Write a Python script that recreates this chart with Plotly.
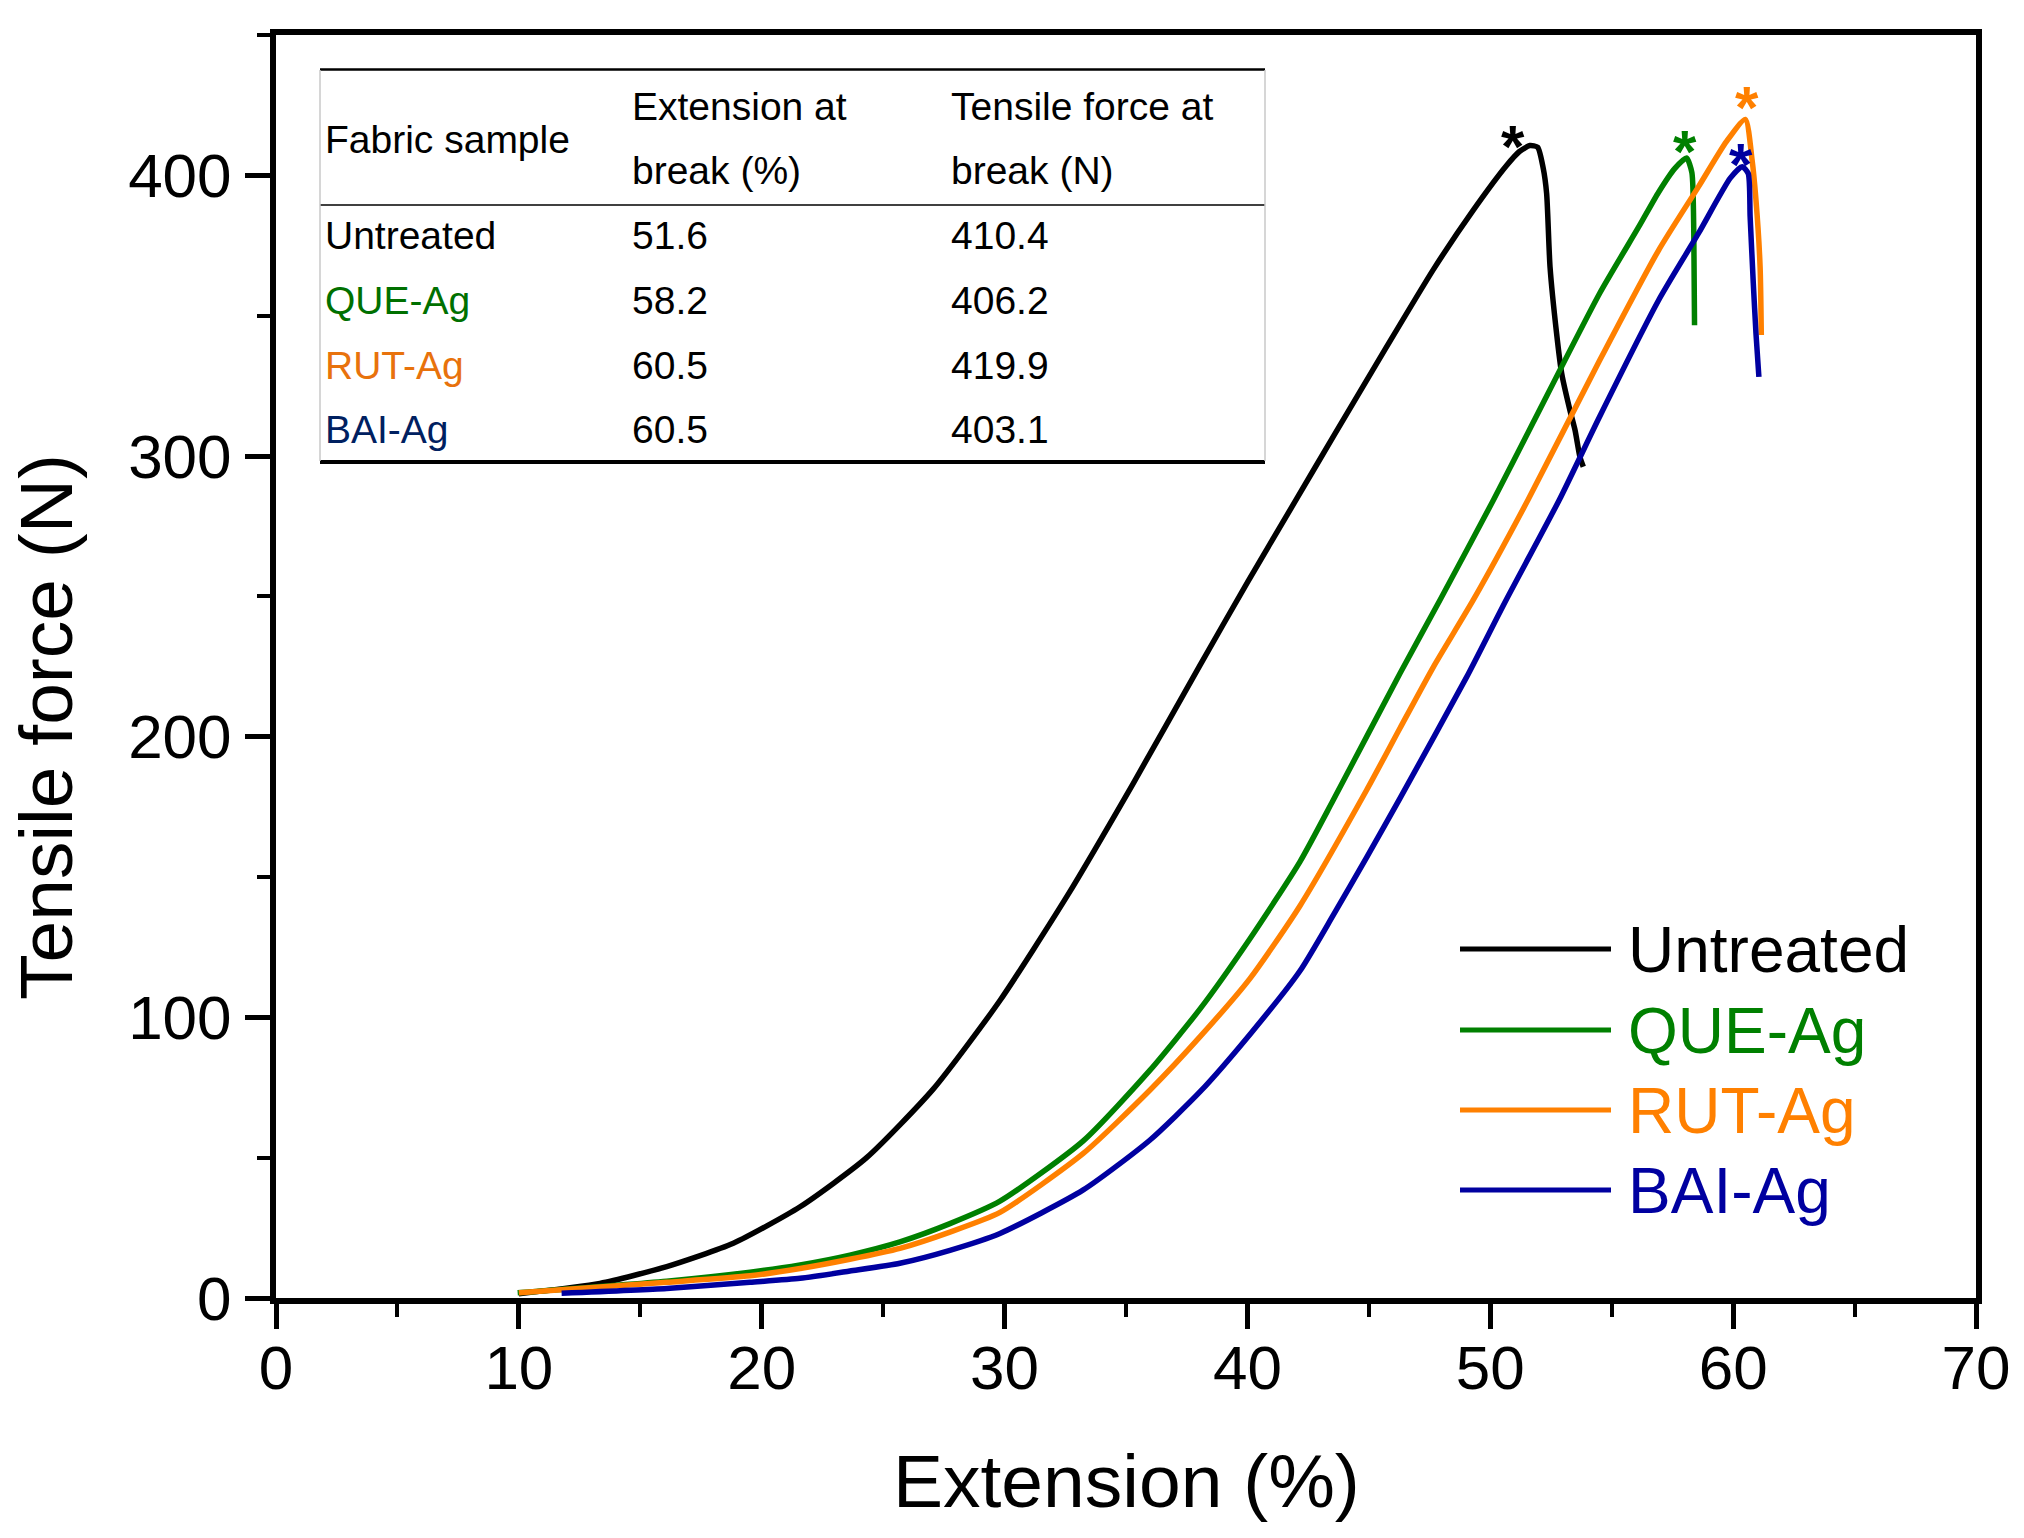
import plotly.graph_objects as go

# ---------------- data ----------------
series_names = ["Untreated", "QUE-Ag", "RUT-Ag", "BAI-Ag"]

ext_untreated = [10.0, 13.34, 16.09, 18.83, 21.58, 24.32, 27.07, 29.81, 32.56, 35.30, 38.05,
                 40.0, 42.03, 43.54, 45.6, 47.66, 49.30, 50.67, 51.2, 51.63, 51.95, 52.18, 52.32,
                 52.46, 52.73, 52.94, 53.28, 53.49, 53.69, 53.83]
force_untreated = [1.5, 5.2, 11.2, 19.5, 32.5, 50.0, 74.5, 106.0, 143.0, 183.4, 225.5,
                   255.0, 284.8, 307.0, 337.0, 366.5, 387.6, 403.5, 408.5, 410.6, 410.0, 402.5,
                   393.5, 367.4, 343.7, 329.4, 316.3, 309.2, 299.7, 296.2]

ext_que = [9.95, 16.09, 19.52, 21.58, 23.63, 25.69, 27.75, 29.81, 33.24, 35.99, 38.05,
           40.11, 42.16, 43.54, 46.28, 47.93, 50.13, 51.77, 54.50, 56.11, 56.93, 57.60,
           58.08, 58.30, 58.38, 58.41]
force_que = [1.9, 6.0, 9.2, 11.8, 15.3, 20.0, 26.5, 34.5, 56.0, 81.2, 103.0,
             128.1, 155.4, 177.5, 222.5, 248.7, 284.3, 312.0, 357.9, 381.6, 394.0, 402.5,
             406.2, 401.0, 379.3, 346.6]

ext_rut = [10.0, 16.09, 19.52, 21.58, 23.63, 25.69, 27.75, 29.81, 33.24, 35.99, 38.05,
           40.11, 42.16, 44.91, 46.28, 47.66, 49.30, 51.55, 54.50, 56.93, 58.57, 59.72,
           60.50, 60.78, 60.94, 61.11, 61.16]
force_rut = [1.9, 5.6, 7.9, 10.5, 13.8, 17.7, 23.5, 30.5, 51.5, 74.1, 93.1,
             113.9, 139.7, 181.0, 203.0, 224.9, 248.7, 284.3, 334.0, 373.3, 395.9, 412.0,
             419.9, 405.4, 391.2, 367.4, 343.1]

ext_bai = [11.76, 16.09, 19.52, 21.58, 23.63, 25.69, 27.75, 29.81, 33.24, 35.99, 38.05,
           40.11, 42.16, 43.54, 44.91, 46.28, 49.03, 50.61, 52.85, 54.50, 56.93, 58.57,
           59.88, 60.37, 60.62, 60.70, 60.83, 60.94, 61.06]
force_bai = [1.7, 3.4, 5.6, 7.0, 9.6, 12.4, 17.0, 23.0, 38.5, 56.3, 73.5,
             94.0, 116.5, 136.5, 157.0, 178.0, 221.3, 248.0, 284.5, 314.0, 355.5, 379.3,
             399.0, 403.1, 400.7, 385.2, 361.5, 343.7, 328.2]

break_ext = [51.6, 58.2, 60.5, 60.5]
break_force = [410.4, 406.2, 419.9, 403.1]

table_header_col1 = ["Fabric sample"]
table_header_col2 = ["Extension at", "break (%)"]
table_header_col3 = ["Tensile force at", "break (N)"]

x_ticks = [0, 10, 20, 30, 40, 50, 60, 70]
y_ticks = [0, 100, 200, 300, 400]

# ---------------- styles ----------------
W, H = 2024, 1538
L, R, T, B = 276, 1976, 35, 1298          # plot-area pixel box
FONT = "Liberation Sans, Arial, Helvetica, sans-serif"
line_colors = ["#000000", "#008000", "#FF8000", "#0000A0"]
table_colors = ["#000000", "#007000", "#E8720C", "#002060"]
star_shift = [(-16, 0), (-4, 6), (2, 12), (-4, 2)]


def px(xp):
    return (xp - L) / (R - L)


def py(yp):
    return (B - yp) / (B - T)


all_x = [ext_untreated, ext_que, ext_rut, ext_bai]
all_y = [force_untreated, force_que, force_rut, force_bai]

fig = go.Figure()
for name, xs, ys, c in zip(series_names, all_x, all_y, line_colors):
    fig.add_trace(go.Scatter(x=xs, y=ys, mode="lines", name=name,
                             line=dict(color=c, width=5.5, shape="spline", smoothing=0.6),
                             showlegend=False))

annotations = []
shapes = []

# asterisks at break points
for bx, by, c, (dx, dy) in zip(break_ext, break_force, line_colors, star_shift):
    annotations.append(dict(x=bx, y=by, xref="x", yref="y", text="<b>*</b>", showarrow=False,
                            font=dict(family=FONT, size=60, color=c),
                            xshift=dx, yshift=dy, xanchor="center", yanchor="middle"))

# manual legend
leg_y = [949, 1030, 1110, 1190]
for name, c, yy in zip(series_names, line_colors, leg_y):
    shapes.append(dict(type="line", xref="paper", yref="paper",
                       x0=px(1460), x1=px(1611), y0=py(yy), y1=py(yy),
                       line=dict(color=c, width=5)))
    annotations.append(dict(x=px(1626), y=py(yy + 1), xref="paper", yref="paper",
                            text=name, showarrow=False, xanchor="left", yanchor="middle",
                            font=dict(family=FONT, size=64, color=c)))

# table
tl, tr = 320, 1265
shapes.append(dict(type="line", xref="paper", yref="paper", x0=px(tl), x1=px(tr),
                   y0=py(69.5), y1=py(69.5), line=dict(color="black", width=2.5)))
shapes.append(dict(type="line", xref="paper", yref="paper", x0=px(tl), x1=px(tr),
                   y0=py(205), y1=py(205), line=dict(color="black", width=1.5)))
shapes.append(dict(type="line", xref="paper", yref="paper", x0=px(tl), x1=px(tr),
                   y0=py(462), y1=py(462), line=dict(color="black", width=4)))
for xx in (tl, tr):
    shapes.append(dict(type="line", xref="paper", yref="paper", x0=px(xx), x1=px(xx),
                       y0=py(70), y1=py(461), line=dict(color="#c8c8c8", width=1.5)))

col_x = [323, 630, 949]
tfont = 39


def tcell(text, xp, yp, color="black"):
    annotations.append(dict(x=px(xp), y=py(yp), xref="paper", yref="paper", text=text,
                            showarrow=False, xanchor="left", yanchor="middle",
                            font=dict(family=FONT, size=tfont, color=color)))


tcell(table_header_col1[0], col_x[0], 139)
for i, (a, b) in enumerate(zip(table_header_col2, table_header_col3)):
    tcell(a, col_x[1], 107 + 63 * i)
    tcell(b, col_x[2], 107 + 63 * i)
row_y = [236, 300.5, 365, 429.5]
for name, e, f, c, yy in zip(series_names, break_ext, break_force, table_colors, row_y):
    tcell(name, col_x[0], yy, c)
    tcell(f"{e:.1f}", col_x[1], yy)
    tcell(f"{f:.1f}", col_x[2], yy)

# axis titles
annotations.append(dict(x=px((L + R) / 2), y=py(1481), xref="paper", yref="paper",
                        text="Extension (%)", showarrow=False, xanchor="center",
                        yanchor="middle", font=dict(family=FONT, size=75, color="black")))
annotations.append(dict(x=px(46), y=py(727), xref="paper", yref="paper",
                        text="Tensile force (N)", showarrow=False, textangle=-90,
                        xanchor="center", yanchor="middle",
                        font=dict(family=FONT, size=75, color="black")))

axis_common = dict(showgrid=False, zeroline=False, showline=True, linecolor="black",
                   linewidth=6, mirror=True, ticks="outside", ticklen=25, tickwidth=5,
                   tickcolor="black", automargin=False,
                   tickfont=dict(family=FONT, size=62, color="black"))

fig.update_layout(
    width=W, height=H,
    margin=dict(l=L, r=W - R, t=T, b=H - B, pad=0),
    paper_bgcolor="white", plot_bgcolor="white",
    xaxis=dict(range=[0, 70], tickvals=x_ticks, ticktext=[str(v) for v in x_ticks],
               minor=dict(dtick=5, tick0=0, ticks="outside", ticklen=13, tickwidth=4,
                          tickcolor="black"),
               ticklabelstandoff=-14, **axis_common),
    yaxis=dict(range=[0, 450], tickvals=y_ticks, ticktext=[str(v) for v in y_ticks],
               minor=dict(dtick=50, tick0=0, ticks="outside", ticklen=13, tickwidth=4,
                          tickcolor="black"),
               ticklabelstandoff=1, **axis_common),
    annotations=annotations,
    shapes=shapes,
    font=dict(family=FONT, color="black"),
)

fig.write_html("out.html", config={"displayModeBar": False},
               post_script="document.body.style.margin='0';document.body.style.overflow='hidden';")
